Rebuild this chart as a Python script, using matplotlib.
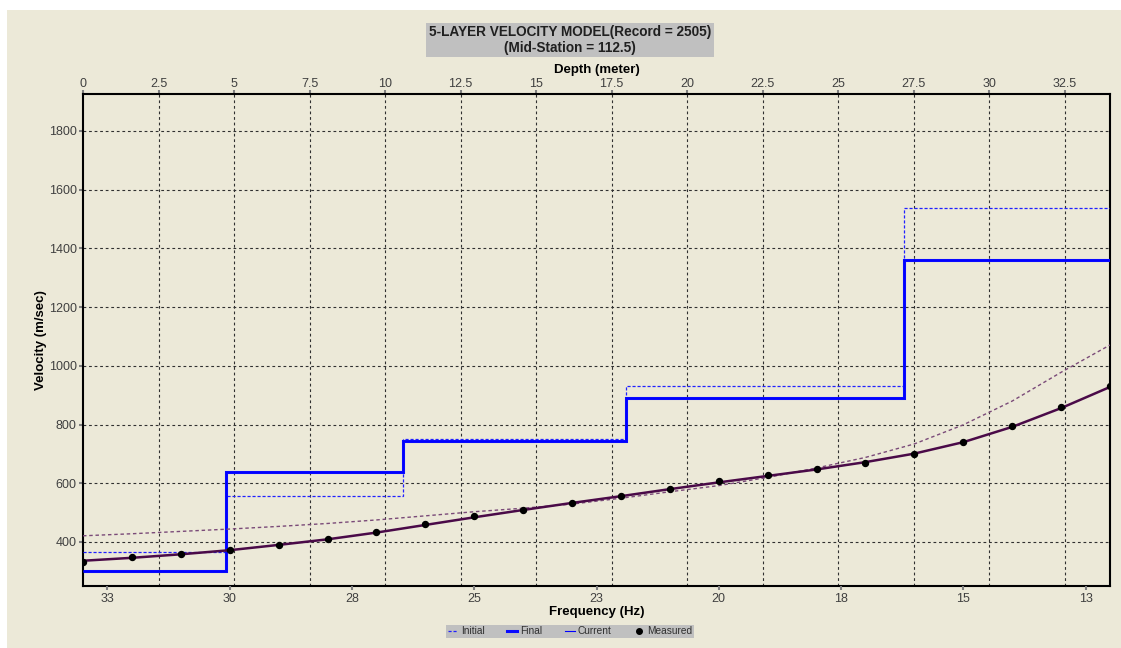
import matplotlib
matplotlib.use("Agg")
import matplotlib.pyplot as plt
import matplotlib.ticker as ticker
from matplotlib.patches import Rectangle
from matplotlib.lines import Line2D

plt.rcParams['font.family'] = ['Liberation Sans', 'DejaVu Sans']

# Layered model: layer boundaries in depth (meter) and velocity of each layer
layer_edges = [0, 4.73, 10.61, 17.98, 27.17, 34.0]
initial_vs = [367, 557, 752, 933, 1537]
final_vs = [300, 637, 744, 889, 1361]
current_vs = [300, 637, 744, 889, 1361]

# Dispersion curves, phase velocity (m/sec) against frequency (Hz)
freq = [33, 32, 31, 30, 29, 28, 27, 26, 25, 24, 23,
        22, 21, 20, 19, 18, 17, 16, 15, 14, 13, 12]
measured_vel = [333, 348, 358, 373, 389, 409, 434, 460, 488, 510, 533,
                557, 582, 607, 629, 650, 670, 699, 742, 795, 861, 932]
final_curve = [336, 346, 358, 372, 390, 409, 432, 458, 484, 509, 533,
               556, 580, 603, 625, 647, 672, 701, 740, 792, 856, 928]
initial_curve = [421, 428, 436, 444, 453, 463, 475, 489, 503, 515, 529,
                 549, 571, 592, 620, 652, 688, 734, 799, 880, 978, 1071]

depth_ticks = [0, 2.5, 5, 7.5, 10, 12.5, 15, 17.5, 20, 22.5, 25, 27.5, 30, 32.5]
vel_ticks = [400, 600, 800, 1000, 1200, 1400, 1600, 1800]
freq_ticks = [32.5, 30, 27.5, 25, 22.5, 20, 17.5, 15, 12.5]
freq_labels = ['33', '30', '28', '25', '23', '20', '18', '15', '13']

W, H = 1121, 648
BG = '#ECE9D8'
TICK_C = '#808080'
LABEL_C = '#404040'

fig = plt.figure(figsize=(W / 100, H / 100), dpi=100)
fig.patch.set_facecolor('white')
fig.patches.append(Rectangle((7 / W, 0), 1 - 7 / W, 1 - 10 / H,
                             transform=fig.transFigure, facecolor=BG,
                             edgecolor='none', zorder=-10))

ax = fig.add_axes([83 / W, 1 - 586 / H, (1110 - 83) / W, (586 - 94) / H])
ax.set_facecolor(BG)
axf = ax.twiny()

# depth axis on top
ax.set_xlim(0, 34)
ax.set_ylim(250, 1926)
ax.xaxis.set_major_locator(ticker.FixedLocator(depth_ticks))
ax.xaxis.set_major_formatter(ticker.FuncFormatter(lambda v, p: '{:g}'.format(v)))
ax.yaxis.set_major_locator(ticker.FixedLocator(vel_ticks))
ax.xaxis.tick_top()
ax.xaxis.set_label_position('top')
ax.tick_params(axis='x', top=True, bottom=False, labeltop=True, labelbottom=False)
ax.tick_params(axis='both', direction='out', length=3, width=1.5,
               color=TICK_C, labelcolor=LABEL_C, labelsize=9)
ax.tick_params(axis='x', pad=0)
ax.tick_params(axis='y', pad=1.5)

for d in depth_ticks[1:]:
    ax.axvline(d, color='#303030', lw=0.8, ls=(0, (2.5, 2.5)), zorder=1)
for v in vel_ticks:
    ax.axhline(v, color='#303030', lw=0.8, ls=(0, (2.5, 2.5)), zorder=1)

ax.stairs(initial_vs, layer_edges, baseline=None, color='#2020ff',
          lw=0.9, ls=(0, (2.5, 1.5)), zorder=3)
ax.stairs(final_vs, layer_edges, baseline=None, color='#0a0aff',
          lw=2.2, zorder=4)
ax.stairs(current_vs, layer_edges, baseline=None, color='#0000ff',
          lw=0.8, zorder=5)

ax.set_xlabel('Depth (meter)', fontsize=9.5, fontweight='bold', labelpad=3.5)
ax.set_ylabel('Velocity (m/sec)', fontsize=9.5, fontweight='bold', labelpad=1)

for s in ax.spines.values():
    s.set_color('black')
    s.set_linewidth(1.5)

# frequency axis at the bottom
axf.set_xlim(33, 12)
axf.xaxis.set_ticks_position('bottom')
axf.xaxis.set_label_position('bottom')
axf.xaxis.set_major_locator(ticker.FixedLocator(freq_ticks))
axf.xaxis.set_major_formatter(ticker.FixedFormatter(freq_labels))
axf.tick_params(axis='x', direction='out', length=3, width=1.5,
                color=TICK_C, labelcolor=LABEL_C, labelsize=9, pad=2)
for s in axf.spines.values():
    s.set_visible(False)

axf.plot(freq, initial_curve, color='#7a4a78', lw=1.0, ls=(0, (2.5, 2)), zorder=3)
axf.plot(freq, final_curve, color='#4a0a48', lw=1.8, zorder=4)
axf.plot(freq, measured_vel, ls='none', marker='o', ms=4.3, color='black', zorder=5)
axf.set_xlabel('Frequency (Hz)', fontsize=9.5, fontweight='bold', labelpad=1)

# title box
fig.text(570 / W, 1 - 40 / H,
         '5-LAYER VELOCITY MODEL(Record = 2505)\n(Mid-Station = 112.5)',
         ha='center', va='center', fontsize=9.8, fontweight='bold',
         color='#202020', linespacing=1.1,
         bbox=dict(boxstyle='square,pad=0.2', facecolor='#C0C0C0', edgecolor='none'))

# legend
handles = [
    Line2D([], [], color='#2020ff', lw=0.9, ls=(0, (2.5, 1.5))),
    Line2D([], [], color='#0a0aff', lw=2.2),
    Line2D([], [], color='#0000ff', lw=0.8),
    Line2D([], [], ls='none', marker='o', ms=4, color='black'),
]
leg = fig.legend(handles, ['Initial', 'Final', 'Current', 'Measured'],
                 loc='center', bbox_to_anchor=(570 / W, 1 - 631.5 / H),
                 ncol=4, fontsize=7.3, handlelength=1.0, handletextpad=0.3,
                 columnspacing=2.2, borderpad=0.15, fancybox=False,
                 framealpha=1, labelcolor='#303030')
leg.get_frame().set_facecolor('#C0C0C0')
leg.get_frame().set_edgecolor('none')

fig.savefig('out.png', dpi=100, facecolor=fig.get_facecolor())
